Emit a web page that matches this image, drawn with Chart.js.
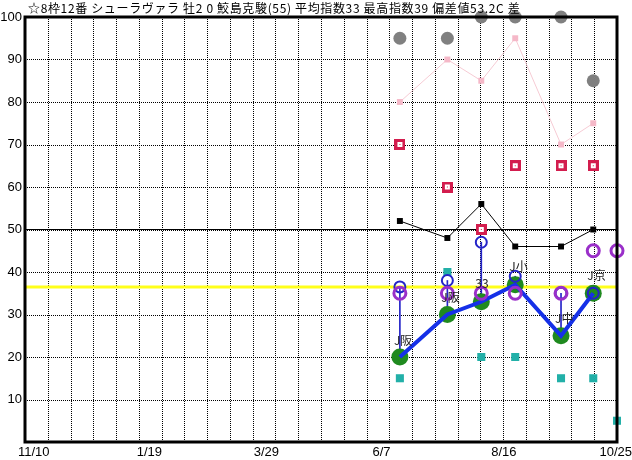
<!DOCTYPE html>
<html>
<head>
<meta charset="utf-8">
<script src="https://cdn.jsdelivr.net/npm/chart.js@4/dist/chart.umd.min.js"></script>
<style>
  body { margin: 0; background: #fff; }
  canvas { display: block; }
</style>
</head>
<body>
<canvas id="c" width="632" height="460"></canvas>
<script>
// 1. DATA (days counted from 11/10)
const titleText = '☆8枠12番 シューラヴァラ 牡2 0 鮫島克駿(55) 平均指数33 最高指数39 偏差値53.2C 差';
const tickDays = [0, 70, 139, 209, 279, 349];
const tickLabels = ['11/10', '1/19', '3/29', '6/7', '8/16', '10/25'];

const raceDays = [221, 249, 269, 289, 316, 335];
const extraDays = [221, 249, 269, 289, 316, 335, 349];

const grayVals = [95, 95, 100, 100, 100, 85];
const pinkVals = [80, 90, 85, 95, 70, 75];
const redVals = [70, 60, 50, 65, 65, 65];
const blackVals = [52, 48, 56, 46, 46, 50];
const tealVals = [15, 40, 20, 20, 15, 15, 5];
const greenVals = [20, 30, 33, 37, 25, 35];
const blueVals = [36.5, 38, 47, 39, 35, 35];
const purpleVals = [35, 35, 35, 35, 35, 45, 45];

const noteTexts = ['J阪', 'J阪', '33', 'J小', 'J中', 'J京'];
const noteVals = [24, 34, 37.3, 41.2, 29.1, 39.2];

const avgLine = 36.5;
const midLine = 50;

// 2. HELPERS
const pts = (xs, ys) => ys.map((v, i) => ({ x: xs[i], y: v }));

function boxMark() {
    const c = document.createElement('canvas');
    c.width = 11; c.height = 11;
    const g = c.getContext('2d');
    g.fillStyle = '#d31d4e'; g.fillRect(0, 0, 11, 11);
    g.fillStyle = '#fff'; g.fillRect(3, 3, 5, 5);
    g.fillStyle = '#d31d4e'; g.fillRect(5, 5, 1, 1);
    return c;
}

// dotted grid, x labels, notes, frame and title
const extras = {
    id: 'extras',
    beforeDatasetsDraw(chart) {
        const { ctx, chartArea: a, scales: { x, xg, y } } = chart;
        ctx.save();
        ctx.strokeStyle = '#000';
        ctx.lineWidth = 1;
        ctx.setLineDash([1, 1]);
        ctx.beginPath();
        y.ticks.forEach(t => {
            if (t.value <= 0 || t.value >= 100) return;
            const py = Math.round(y.getPixelForValue(t.value)) + 0.5;
            ctx.moveTo(a.left, py); ctx.lineTo(a.right, py);
        });
        xg.ticks.forEach((t, i) => {
            if (i === 0 || i === xg.ticks.length - 1) return;
            const px = Math.round(xg.getPixelForValue(t.value)) + 0.5;
            ctx.moveTo(px, a.top); ctx.lineTo(px, a.bottom);
        });
        ctx.stroke();
        ctx.setLineDash([]);

        // x tick labels, left edge slightly before the tick, last one kept inside the canvas
        ctx.font = '13px "Liberation Sans"';
        ctx.fillStyle = '#000';
        ctx.textBaseline = 'middle';
        tickDays.forEach((d, i) => {
            const w = ctx.measureText(tickLabels[i]).width;
            const px = Math.min(x.getPixelForValue(d) - 7, chart.width - w);
            ctx.fillText(tickLabels[i], px, a.bottom + 10);
        });
        ctx.restore();
    },
    afterDatasetsDraw(chart) {
        const { ctx, scales: { x, y } } = chart;
        ctx.save();
        ctx.font = '12px "Noto Sans CJK JP"';
        ctx.fillStyle = '#222';
        ctx.textBaseline = 'middle';
        noteTexts.forEach((t, i) => {
            ctx.fillText(t, x.getPixelForValue(raceDays[i]) - 6, y.getPixelForValue(noteVals[i]));
        });
        ctx.restore();
    },
    afterDraw(chart) {
        const { ctx, chartArea: a } = chart;
        ctx.save();
        ctx.strokeStyle = '#000';
        ctx.lineWidth = 3;
        ctx.strokeRect(a.left, a.top, a.right - a.left, a.bottom - a.top);
        ctx.font = '12px "Noto Sans CJK JP"';
        ctx.letterSpacing = '0.65px';
        ctx.fillStyle = '#000';
        ctx.textBaseline = 'middle';
        ctx.fillText(titleText, 28, 8);
        ctx.restore();
    }
};

// 3. CHART
const ctx = document.getElementById('c').getContext('2d');
new Chart(ctx, {
    type: 'line',
    data: {
        datasets: [
            { data: pts(extraDays, purpleVals), showLine: false, pointRadius: 6, pointBorderWidth: 3,
              pointBorderColor: '#9a2fc9', pointBackgroundColor: 'rgba(0,0,0,0)', order: 1 },
            { data: pts(raceDays, blueVals), showLine: false, pointRadius: 5.5, pointBorderWidth: 2,
              pointBorderColor: '#2424c8', pointBackgroundColor: 'rgba(0,0,0,0)', order: 2 },
            { data: pts(raceDays, greenVals), borderColor: '#1530e8', borderWidth: 4, pointRadius: 0, order: 3 },
            { data: pts(raceDays, greenVals), showLine: false, pointRadius: 8.5, pointBorderWidth: 0,
              pointBackgroundColor: '#1f8a1f', order: 4 },
            { type: 'bar', data: raceDays.map((d, i) => ({ x: d, y: [greenVals[i], blueVals[i]] })),
              barThickness: 1, backgroundColor: '#2424c8', order: 5 },
            { data: pts(extraDays, tealVals), showLine: false, pointStyle: 'rect', pointRadius: 5.7,
              pointBorderWidth: 0, pointBackgroundColor: '#22b0a8', order: 6 },
            { data: pts(raceDays, redVals), showLine: false, pointStyle: boxMark(), order: 6 },
            { data: pts(raceDays, blackVals), borderColor: '#000', borderWidth: 1, pointStyle: 'rect',
              pointRadius: 4.2, pointBorderWidth: 0, pointBackgroundColor: '#000', order: 7 },
            { data: pts(raceDays, pinkVals), borderColor: '#f6cbd4', borderWidth: 1, pointStyle: 'rect',
              pointRadius: 4.2, pointBorderWidth: 0, pointBackgroundColor: '#f5b8c8', order: 8 },
            { data: pts(raceDays, grayVals), showLine: false, pointRadius: 6.5, pointBorderWidth: 0,
              pointBackgroundColor: '#808080', order: 8 },
            { data: [{ x: 0, y: avgLine }, { x: 349, y: avgLine }], borderColor: '#ffff1a', borderWidth: 3,
              pointRadius: 0, order: 9 },
            { data: [{ x: 0, y: midLine }, { x: 349, y: midLine }], borderColor: '#000', borderWidth: 1,
              pointRadius: 0, order: 9 }
        ]
    },
    options: {
        responsive: false,
        animation: false,
        devicePixelRatio: 1,
        clip: false,
        layout: { padding: { left: 0, right: 15, top: 17, bottom: 0 } },
        plugins: { legend: { display: false }, tooltip: { enabled: false } },
        scales: {
            x: {
                type: 'linear', min: 0, max: 349, offset: false,
                afterBuildTicks: s => { s.ticks = tickDays.map(v => ({ value: v })); },
                ticks: { display: false },
                grid: { display: false, drawTicks: false, offset: false },
                border: { display: false },
                afterFit: s => { s.height = 18; s.paddingLeft = 0; s.paddingRight = 0; }
            },
            xg: {
                type: 'linear', position: 'top', min: 0, max: 349, offset: false,
                afterBuildTicks: s => {
                    const t = [];
                    for (let i = 0; i <= 26; i++) t.push({ value: i * 349 / 26 });
                    s.ticks = t;
                },
                ticks: { display: false },
                grid: { display: false, drawTicks: false, offset: false },
                border: { display: false },
                afterFit: s => { s.height = 0; s.paddingLeft = 0; s.paddingRight = 0; }
            },
            y: {
                min: 0, max: 100,
                ticks: {
                    stepSize: 10, padding: 3, color: '#000',
                    font: { family: 'Liberation Sans', size: 13 },
                    callback: v => (v === 0 ? '' : v)
                },
                grid: { display: false, drawTicks: false },
                border: { display: false },
                afterFit: s => { s.width = 25; s.paddingTop = 0; s.paddingBottom = 0; }
            }
        }
    },
    plugins: [extras]
});
</script>
</body>
</html>
